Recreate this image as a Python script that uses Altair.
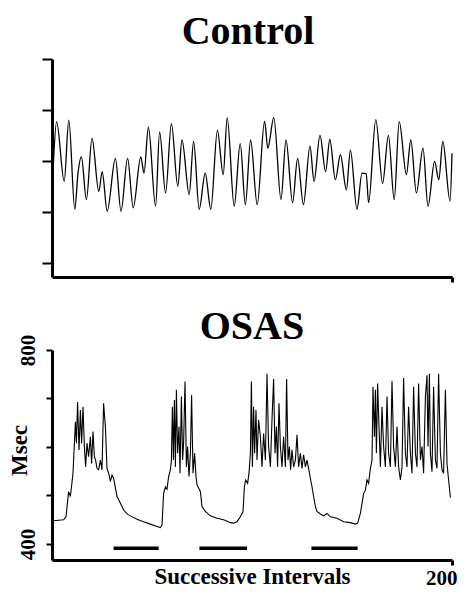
import altair as alt
import pandas as pd

FONT = "Liberation Serif"

# ---- Control series (successive intervals, msec) ----
ctrl_idx = [0.7, 2.3, 6.1, 8.4, 11.4, 13.0, 14.7, 17.2, 20.0, 23.4,
            25.1, 27.6, 31.7, 34.5, 37.8, 40.6, 44.4, 46.0, 48.2, 51.8,
            53.8, 56.8, 59.7, 62.9, 65.0, 68.6, 70.8, 73.6, 76.6, 79.4,
            82.7, 85.6, 87.6, 91.1, 94.1, 96.7, 99.3, 102.6, 106.3, 107.9,
            110.9, 114.5, 117.0, 120.3, 122.8, 125.7, 129.0, 131.0, 134.0, 136.8,
            138.9, 141.7, 144.2, 147.2, 149.2, 152.5, 155.0, 157.1, 158.3, 161.9,
            165.3, 168.2, 171.1, 173.6, 177.2, 179.4, 182.2, 185.5, 188.0, 191.3,
            193.4, 195.4, 199.0, 200.0]
ctrl_ms = [595, 677, 560, 680, 505, 576, 608, 524, 644, 540,
           579, 501, 605, 501, 605, 508, 608, 576, 666, 511,
           657, 537, 673, 550, 641, 534, 638, 505, 576, 505,
           660, 573, 685, 511, 634, 514, 641, 514, 678, 625,
           685, 524, 641, 518, 605, 514, 629, 560, 650, 579,
           642, 563, 612, 543, 621, 505, 576, 575, 518, 681,
           556, 650, 524, 677, 573, 641, 537, 625, 511, 599,
           563, 638, 521, 615]

# ---- OSAS series ----
osas_idx = [0.8, 5.8, 7, 8.3, 9.2, 10.5, 11.2, 11.7, 12.2, 12.8,
            13.5, 14.2, 14.8, 15.5, 16.2, 16.8, 17.5, 18.3, 19.2, 19.8,
            20.5, 21.2, 21.8, 22.5, 23.3, 24.2, 25, 25.8, 26.7, 27.5,
            28.3, 29.2, 30, 30.8, 32.5, 34.2, 35.8, 37.5, 39.2, 42.5,
            45.8, 49.2, 52.5, 54.2, 55, 55.8, 56.7, 57.5, 58.3, 59.2,
            59.7, 60.2, 60.7, 61.2, 61.7, 62.2, 62.8, 63.5, 64, 64.7,
            65.3, 65.8, 66.5, 67.2, 67.8, 68.5, 69.2, 69.8, 70.5, 71.3,
            72, 72.5, 74.2, 75, 76.7, 79.2, 82.5, 85.8, 89.2, 90.8,
            92.5, 94.2, 95.5, 96.2, 96.8, 97.8, 98.5, 99.2, 99.7, 100.2,
            100.8, 101.3, 102, 102.5, 103.3, 104.2, 105, 105.8, 106.7, 107.5,
            108.3, 109.2, 110, 110.8, 111.5, 112.2, 112.8, 113.5, 114.2, 115,
            115.8, 116.7, 117.3, 118, 118.7, 119.3, 120, 120.8, 121.7, 122.5,
            123.3, 124.2, 125, 125.8, 126.7, 127.5, 128.3, 129.2, 130, 130.8,
            131.7, 132.5, 134.2, 135.8, 137.5, 139.2, 142.5, 145.8, 149.2, 151.7,
            152.8, 154.2, 155.3, 155.8, 156.7, 157.5, 158.3, 159.2, 160, 160.5,
            161.2, 161.7, 162.2, 162.8, 163.5, 164.2, 165, 165.8, 166.7, 167.5,
            168.3, 169.2, 170, 170.8, 171.7, 172.5, 173.3, 174.2, 175, 175.8,
            176.7, 177.5, 178.3, 179.2, 180, 180.8, 181.7, 182.5, 183.3, 184.2,
            185, 185.8, 186.7, 187.5, 188, 188.7, 189.2, 190, 190.8, 191.7,
            192.5, 193.3, 194.2, 195, 195.8, 196.7, 197.5, 198.3, 199.2]
osas_ms = [448, 450, 456, 508, 498, 546, 608, 652, 608, 693,
           594, 676, 608, 683, 601, 559, 608, 580, 621, 566,
           632, 580, 573, 556, 553, 573, 553, 690, 642, 556,
           546, 529, 542, 535, 498, 484, 470, 462, 458, 451,
           446, 441, 436, 434, 439, 504, 518, 513, 539, 553,
           573, 683, 573, 697, 559, 718, 587, 642, 546, 704,
           573, 608, 735, 559, 601, 539, 587, 707, 546, 587,
           539, 522, 508, 477, 467, 458, 453, 450, 444, 443,
           446, 456, 467, 518, 532, 525, 546, 587, 735, 559,
           683, 587, 676, 573, 656, 621, 559, 628, 573, 751,
           601, 559, 656, 740, 587, 642, 559, 690, 601, 559,
           621, 559, 740, 573, 601, 553, 594, 559, 573, 625,
           559, 587, 556, 584, 559, 573, 556, 535, 518, 498,
           477, 467, 462, 458, 463, 456, 453, 446, 444, 441,
           443, 463, 491, 504, 511, 532, 525, 556, 573, 724,
           621, 718, 587, 731, 642, 559, 683, 601, 559, 704,
           587, 559, 736, 601, 559, 642, 559, 532, 559, 742,
           587, 559, 683, 587, 546, 724, 587, 559, 731, 573,
           601, 546, 704, 748, 601, 751, 587, 549, 724, 573,
           556, 751, 587, 553, 546, 718, 566, 532, 496]

# ---- apnea markers (bars under the OSAS trace) ----
apnea_start = [30.8, 73.7, 129.7]
apnea_end = [53.3, 97.5, 152.8]
apnea_level = [391, 391, 391]

y_ticks = [400, 500, 600, 700, 800]
x_ticks = [200]

ctrl = pd.DataFrame({"i": ctrl_idx, "v": ctrl_ms})
osas = pd.DataFrame({"i": osas_idx, "v": osas_ms})
bars = pd.DataFrame({"i": apnea_start, "e": apnea_end, "v": apnea_level})

W = 400

# ---------------- top panel ----------------
top = alt.Chart(ctrl).mark_line(color="black", strokeWidth=1.3, interpolate="monotone").encode(
    x=alt.X("i:Q", scale=alt.Scale(domain=[0, 200], nice=False, zero=False),
            axis=alt.Axis(values=x_ticks, labels=False, tickSize=5, tickWidth=3,
                          domainWidth=3, title=None, grid=False)),
    y=alt.Y("v:Q", scale=alt.Scale(domain=[372, 800], nice=False, zero=False),
            axis=alt.Axis(values=y_ticks, labels=False, tickSize=10, tickWidth=2,
                          domainWidth=3, title=None, grid=False)),
).properties(width=W, height=218,
             title=alt.TitleParams("Control", fontSize=40, offset=6, dx=-4,
                                   anchor="middle", frame="group"))

# ---------------- bottom panel ----------------
def bx(field):
    return alt.X(field, scale=alt.Scale(domain=[0, 200], nice=False, zero=False),
                 axis=alt.Axis(values=x_ticks, tickSize=5, tickWidth=3, domainWidth=3,
                               labelFontSize=21, labelPadding=2, labelAlign="right",
                               labelOffset=5,
                               grid=False, title="Successive Intervals", titleFontSize=23,
                               titlePadding=-23))

def by(field):
    return alt.Y(field, scale=alt.Scale(domain=[367, 800], nice=False, zero=False),
                 axis=alt.Axis(values=y_ticks, tickSize=6, tickWidth=2, domainWidth=3,
                               labelFontSize=21, labelAngle=270, labelPadding=8,
                               labelExpr="datum.value == 400 || datum.value == 800 ? datum.label : ''",
                               grid=False, title="Msec", titleFontSize=23, titlePadding=-14,
                               titleY=100))

line = alt.Chart(osas).mark_line(color="black", strokeWidth=1.1).encode(x=bx("i:Q"), y=by("v:Q"))
rules = alt.Chart(bars).mark_rule(color="black", strokeWidth=3.5).encode(
    x=bx("i:Q"), x2="e:Q", y=by("v:Q"))

bottom = alt.layer(line, rules).properties(
    width=W, height=210,
    title=alt.TitleParams("OSAS", fontSize=40, offset=-13, anchor="middle", frame="group"))

chart = alt.vconcat(top, bottom, spacing=23).properties(
    padding={"left": 0, "top": 4, "right": 0, "bottom": 0}
).configure_view(stroke=None).configure_axis(
    labelFont=FONT, titleFont=FONT, labelColor="black", titleColor="black",
    domainColor="black", tickColor="black", labelFontWeight="bold", titleFontWeight="bold"
).configure_title(font=FONT, fontWeight="bold", color="black")

chart.save("out.html", embed_options={"renderer": "svg", "actions": False})
